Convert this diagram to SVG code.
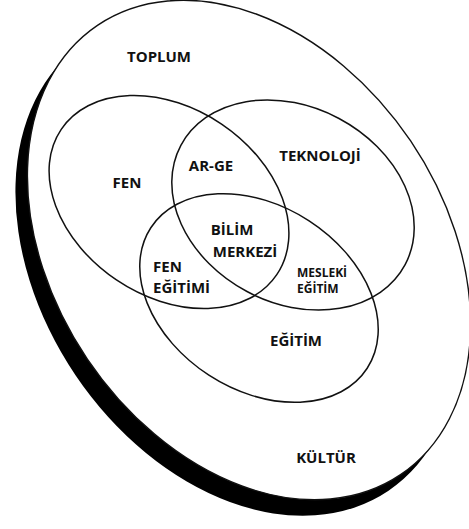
<svg xmlns="http://www.w3.org/2000/svg" width="469" height="529" viewBox="0 0 469 529">
<style>
.c{fill:none;stroke:#111;stroke-width:1.5}
.t{font-family:"Open Sans","Liberation Sans",sans-serif;font-weight:bold;fill:#111;font-size:15px}
.s{font-size:12px}
.m{text-anchor:middle}
</style>
<rect width="469" height="529" fill="#fff"/>
<g id="kultur-toplum">
<ellipse transform="translate(237 266) rotate(56)" rx="271" ry="195" fill="#000"/>
<ellipse transform="translate(249 250) rotate(56)" rx="271" ry="195" fill="#fff" stroke="#111" stroke-width="1.4"/>
<text class="t m" x="159" y="62">TOPLUM</text>
<text class="t m" x="326" y="463">KÜLTÜR</text>
</g>
<g id="fen">
<ellipse class="c" transform="translate(169 202) rotate(34)" rx="130" ry="94"/>
<text class="t m" x="127" y="188">FEN</text>
</g>
<g id="teknoloji">
<ellipse class="c" transform="translate(293 205) rotate(28)" rx="127" ry="98"/>
<text class="t m" x="320" y="161">TEKNOLOJİ</text>
</g>
<g id="egitim">
<ellipse class="c" transform="translate(259 298) rotate(33)" rx="129" ry="92"/>
<text class="t m" x="296" y="346">EĞİTİM</text>
</g>
<g id="ar-ge"><text class="t m" x="211" y="171">AR-GE</text></g>
<g id="bilim-merkezi">
<text class="t m" x="232" y="235">BİLİM</text>
<text class="t m" x="245" y="257">MERKEZİ</text>
</g>
<g id="fen-egitimi">
<text class="t" x="153" y="272">FEN</text>
<text class="t" x="153" y="293">EĞİTİMİ</text>
</g>
<g id="mesleki-egitim">
<text class="t s" x="297" y="277">MESLEKİ</text>
<text class="t s" x="297" y="293">EĞİTİM</text>
</g>
<g id="connectors"></g>
</svg>
